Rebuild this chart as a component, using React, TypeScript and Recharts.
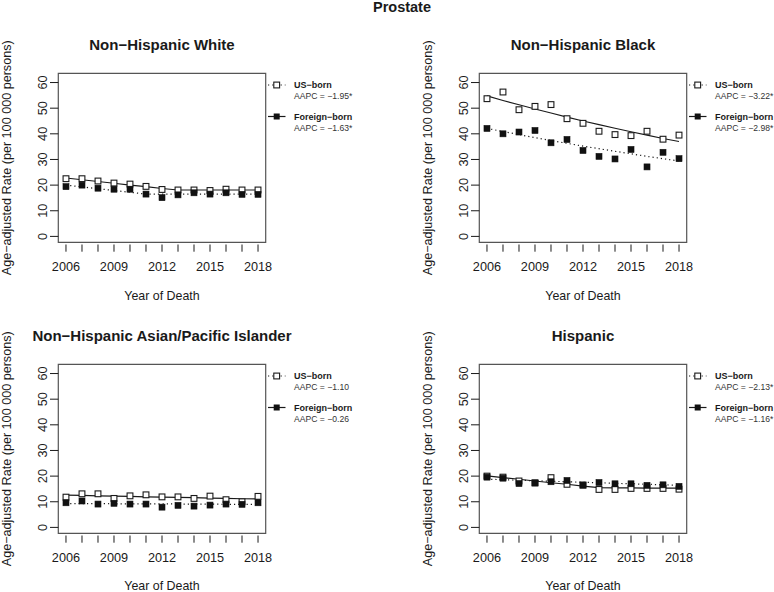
import React from 'react';
import { LineChart, Line, XAxis, YAxis, ReferenceArea } from 'recharts';

const years = [2006, 2007, 2008, 2009, 2010, 2011, 2012, 2013, 2014, 2015, 2016, 2017, 2018];
const yearLabels = [2006, 2009, 2012, 2015, 2018];
const rateTicks = [0, 10, 20, 30, 40, 50, 60];

// Non-Hispanic White
const whiteUs = [22.5, 22.5, 21.6, 20.8, 20.4, 19.5, 18.3, 18.1, 18.1, 17.9, 18.4, 18.1, 18.1];
const whiteForeign = [19.4, 20.0, 18.8, 18.4, 18.4, 16.5, 15.1, 16.2, 17.0, 16.5, 17.0, 16.4, 16.4];
const whiteUsFit = [22.8, 22.1, 21.4, 20.7, 20.0, 19.4, 18.7, 18.1, 18.1, 18.1, 18.1, 18.1, 18.1];
const whiteForeignFit = [20.0, 19.3, 18.6, 17.9, 17.2, 16.5, 16.5, 16.5, 16.5, 16.5, 16.5, 16.5, 16.5];

// Non-Hispanic Black
const blackUs = [53.7, 56.3, 49.4, 50.7, 51.4, 45.9, 44.1, 41.0, 39.7, 39.3, 41.0, 37.9, 39.5];
const blackForeign = [42.1, 40.0, 40.7, 41.3, 36.5, 37.8, 33.5, 31.2, 30.2, 33.9, 27.1, 32.8, 30.3];
const blackUsFit = [54.8, 53.0, 51.3, 49.7, 48.1, 46.5, 45.0, 43.6, 42.2, 40.8, 39.5, 38.2, 37.0];
const blackForeignFit = [42.1, 40.9, 39.7, 38.5, 37.4, 36.3, 35.2, 34.2, 33.2, 32.2, 31.2, 30.3, 29.4];

// Non-Hispanic Asian/Pacific Islander
const apiUs = [11.8, 13.1, 13.1, 11.3, 12.3, 12.7, 11.9, 11.9, 11.3, 12.2, 10.8, 10.0, 12.1];
const apiForeign = [9.6, 10.3, 9.1, 9.4, 9.1, 9.1, 7.9, 8.6, 8.3, 8.7, 9.1, 9.0, 9.6];
const apiUsFit = [12.6, 12.5, 12.3, 12.2, 12.1, 11.9, 11.8, 11.7, 11.6, 11.4, 11.3, 11.2, 11.1];
const apiForeignFit = [9.3, 9.3, 9.3, 9.2, 9.2, 9.2, 9.2, 9.1, 9.1, 9.1, 9.0, 9.0, 9.0];

// Hispanic
const hispUs = [20.0, 19.6, 18.1, 17.4, 19.4, 16.8, 16.5, 14.8, 14.8, 15.2, 15.2, 15.2, 14.9];
const hispForeign = [19.6, 19.2, 17.1, 17.3, 17.8, 18.3, 16.5, 17.5, 17.0, 17.0, 16.4, 16.6, 16.0];
const hispUsFit = [20.1, 19.4, 18.8, 18.1, 17.4, 16.8, 16.1, 15.5, 15.4, 15.4, 15.3, 15.3, 15.3];
const hispForeignFit = [18.8, 18.6, 18.4, 18.2, 18.0, 17.8, 17.6, 17.4, 17.2, 17.0, 16.8, 16.6, 16.4];

const FONT = '"Liberation Sans", Arial, Helvetica, sans-serif';
const X_DOMAIN = [2005.52, 2018.48];
const Y_DOMAIN = [-2.3, 63.6];
const BOX_LEFT = 58.3;
const BOX_RIGHT = 265.7;
const BOX_TOP = 73.3;
const BOX_BOTTOM = 242.3;
const INK = '#1a1a1a';

const XTick = (props: any) => {
  const { x, y, payload } = props;
  const show = yearLabels.includes(payload.value);
  return (
    <g>
      <line x1={x} x2={x} y1={y + 2.2} y2={y + 9.4} stroke={INK} strokeWidth={1} />
      {show && (
        <text x={x} y={y + 24.4} textAnchor="middle" dominantBaseline="central"
          fontSize={12.7} fontFamily={FONT} fill={INK}>
          {payload.value}
        </text>
      )}
    </g>
  );
};

const YTick = (props: any) => {
  const { x, y, payload } = props;
  const lx = x - 15;
  return (
    <g>
      <line x1={x - 8.3} x2={x} y1={y} y2={y} stroke={INK} strokeWidth={1} />
      <text x={lx} y={y} transform={`rotate(-90 ${lx} ${y})`} textAnchor="middle"
        dominantBaseline="central" fontSize={12.7} fontFamily={FONT} fill={INK}>
        {payload.value}
      </text>
    </g>
  );
};

const openSquare = (props: any) => {
  const { cx, cy, index } = props;
  return (
    <rect key={`o-${index}`} x={cx - 2.9} y={cy - 2.9} width={5.8} height={5.8}
      fill="#fff" stroke={INK} strokeWidth={1.1} />
  );
};

const filledSquare = (props: any) => {
  const { cx, cy, index } = props;
  return (
    <rect key={`f-${index}`} x={cx - 3} y={cy - 3} width={6} height={6}
      fill="#111" stroke="#111" strokeWidth={0.6} />
  );
};

interface PanelProps {
  title: string;
  us: number[];
  foreign: number[];
  usFit: number[];
  foreignFit: number[];
  usAapc: string;
  foreignAapc: string;
  left: number;
  top: number;
  width: number;
  height: number;
  xLabelY: number;
}

function Panel({ title, us, foreign, usFit, foreignFit, usAapc, foreignAapc, left, top, width, height, xLabelY }: PanelProps) {
  const data = years.map((year, i) => ({
    year,
    us: us[i],
    foreign: foreign[i],
    usFit: usFit[i],
    foreignFit: foreignFit[i],
  }));
  const midY = (BOX_TOP + BOX_BOTTOM) / 2;
  const midX = (BOX_LEFT + BOX_RIGHT) / 2;

  return (
    <div style={{ position: 'absolute', left, top, width, height }}>
      <LineChart
        width={width}
        height={height}
        data={data}
        margin={{ top: BOX_TOP, left: 0, right: width - BOX_RIGHT, bottom: height - BOX_BOTTOM - 30 }}
      >
        <XAxis dataKey="year" type="number" domain={X_DOMAIN} ticks={years} interval={0}
          allowDataOverflow height={30} axisLine={false} tickLine={false}
          tickSize={0} tickMargin={0} tick={<XTick />} />
        <YAxis type="number" domain={Y_DOMAIN} ticks={rateTicks} interval={0}
          allowDataOverflow width={BOX_LEFT} axisLine={false} tickLine={false}
          tickSize={0} tickMargin={0} tick={<YTick />} />
        <ReferenceArea x1={X_DOMAIN[0]} x2={X_DOMAIN[1]} y1={Y_DOMAIN[0]} y2={Y_DOMAIN[1]}
          fill="none" stroke="#555" strokeWidth={1.2} ifOverflow="visible" />
        <Line dataKey="usFit" stroke={INK} strokeWidth={1.1} dot={false} activeDot={false}
          type="linear" isAnimationActive={false} />
        <Line dataKey="foreignFit" stroke={INK} strokeWidth={1.2} strokeDasharray="1.2 3"
          dot={false} activeDot={false} type="linear" isAnimationActive={false} />
        <Line dataKey="us" stroke="none" dot={openSquare} activeDot={false}
          isAnimationActive={false} />
        <Line dataKey="foreign" stroke="none" dot={filledSquare} activeDot={false}
          isAnimationActive={false} />
      </LineChart>
      <svg width={width} height={height} style={{ position: 'absolute', left: 0, top: 0, pointerEvents: 'none' }}
        fontFamily={FONT} fill={INK}>
        <text x={midX} y={44.3} textAnchor="middle" dominantBaseline="central" fontSize={15} fontWeight="bold">
          {title}
        </text>
        <text x={7.5} y={midY} transform={`rotate(-90 7.5 ${midY})`} textAnchor="middle"
          dominantBaseline="central" fontSize={12.6}>
          Age−adjusted Rate (per 100 000 persons)
        </text>
        <text x={midX} y={xLabelY} textAnchor="middle" dominantBaseline="central" fontSize={12.4}>
          Year of Death
        </text>
        {/* legend */}
        <line x1={268} x2={285.5} y1={85} y2={85} stroke={INK} strokeWidth={1.2} strokeDasharray="1.2 3" />
        <rect x={276.7 - 2.9} y={85 - 2.9} width={5.8} height={5.8} fill="#fff" stroke={INK} strokeWidth={1.1} />
        <text x={294} y={85} dominantBaseline="central" fontSize={9} fontWeight="bold">US−born</text>
        <text x={294} y={96.3} dominantBaseline="central" fontSize={8.6} fill="#333">{usAapc}</text>
        <line x1={268} x2={285.5} y1={116.5} y2={116.5} stroke={INK} strokeWidth={1.2} />
        <rect x={276.7 - 3} y={116.5 - 3} width={6} height={6} fill="#111" />
        <text x={294} y={116.5} dominantBaseline="central" fontSize={9} fontWeight="bold">Foreign−born</text>
        <text x={294} y={127.6} dominantBaseline="central" fontSize={8.6} fill="#333">{foreignAapc}</text>
      </svg>
    </div>
  );
}

export default function App() {
  return (
    <div style={{ position: 'absolute', left: 0, top: 0, width: 774, height: 592, background: '#fff', overflow: 'hidden' }}>
      <div style={{
        position: 'absolute', left: 352, top: 0, width: 100, textAlign: 'center',
        fontFamily: FONT, fontWeight: 'bold', fontSize: 14.5, lineHeight: '14px', color: INK,
      }}>
        Prostate
      </div>
      <Panel title="Non−Hispanic White" us={whiteUs} foreign={whiteForeign} usFit={whiteUsFit}
        foreignFit={whiteForeignFit} usAapc="AAPC = −1.95*" foreignAapc="AAPC = −1.63*"
        left={0} top={0} width={421} height={306} xLabelY={296} />
      <Panel title="Non−Hispanic Black" us={blackUs} foreign={blackForeign} usFit={blackUsFit}
        foreignFit={blackForeignFit} usAapc="AAPC = −3.22*" foreignAapc="AAPC = −2.98*"
        left={421} top={0} width={353} height={306} xLabelY={296} />
      <Panel title="Non−Hispanic Asian/Pacific Islander" us={apiUs} foreign={apiForeign} usFit={apiUsFit}
        foreignFit={apiForeignFit} usAapc="AAPC = −1.10" foreignAapc="AAPC = −0.26"
        left={0} top={291} width={421} height={301} xLabelY={295.3} />
      <Panel title="Hispanic" us={hispUs} foreign={hispForeign} usFit={hispUsFit}
        foreignFit={hispForeignFit} usAapc="AAPC = −2.13*" foreignAapc="AAPC = −1.16*"
        left={421} top={291} width={353} height={301} xLabelY={295.3} />
    </div>
  );
}
